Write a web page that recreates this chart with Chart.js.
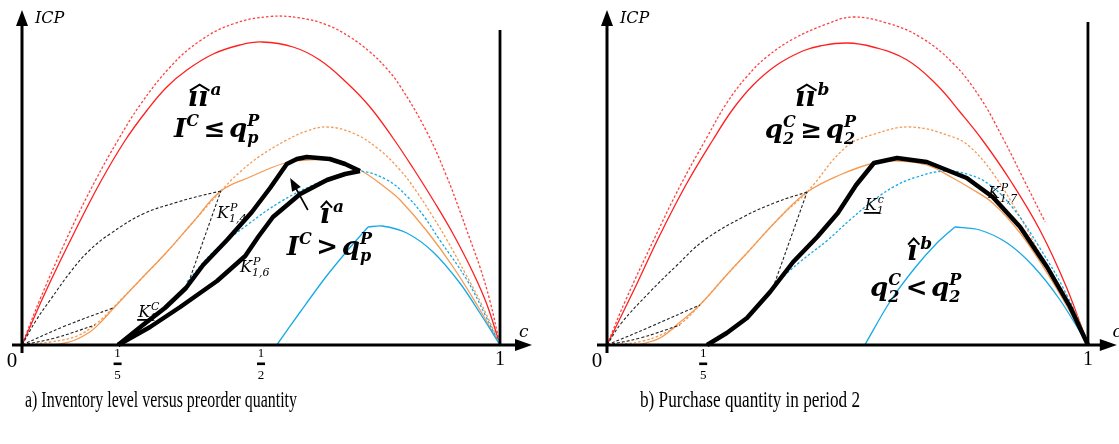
<!DOCTYPE html>
<html>
<head>
<meta charset="utf-8">
<script src="https://cdn.jsdelivr.net/npm/chart.js@4/dist/chart.umd.min.js"></script>
<style>
  html, body { margin: 0; padding: 0; background: #fff; }
  body { width: 1119px; height: 444px; position: relative; overflow: hidden; }
  .panel { position: absolute; top: 0; height: 444px; }
  #pa { left: 0; width: 560px; }
  #pb { left: 560px; width: 559px; }
  .cap { position: absolute; top: 388px; font-family: "Liberation Serif", "Times New Roman", serif;
         font-size: 23px; line-height: 23px; color: #000; white-space: nowrap; transform-origin: 0 0; }
</style>
</head>
<body>
<div class="panel" id="pa"><canvas id="ca" width="560" height="444"></canvas></div>
<div class="panel" id="pb"><canvas id="cb" width="559" height="444"></canvas></div>
<div class="cap" id="capA" data-w="272" style="left:25px">a) Inventory level versus preorder quantity</div>
<div class="cap" id="capB" data-w="220" style="left:640px">b) Purchase quantity in period 2</div>
<script>
// ---- axis ticks -------------------------------------------------------
const xTicksA = [0, 0.2, 0.5, 1];
const xTickTextA = ['0', '1/5', '1/2', '1'];
const xTicksB = [0, 0.2, 1];
const xTickTextB = ['0', '1/5', '1'];

// ---- panel a: curves as [c, ICP] pairs ---------------------------------
const redDashA = [[0,0],[0.038,46],[0.100,113],[0.153,164],[0.201,205],[0.247,240],[0.310,278],[0.372,304],[0.441,321],[0.519,328.5],[0.582,327],[0.638,320],[0.686,308],[0.728,293],[0.760,278],[0.791,259],[0.847,213],[0.889,168],[0.916,134],[0.937,106],[0.958,78],[0.979,44],[1,0]];
const redSolidA = [[0,0],[0.054,58],[0.111,114],[0.163,162],[0.215,204],[0.262,235],[0.303,258],[0.345,275],[0.400,291],[0.456,300],[0.502,303],[0.567,298],[0.623,285],[0.680,262],[0.728,238],[0.776,207],[0.818,177],[0.864,142],[0.902,111],[0.944,72],[0.973,40],[1,0]];
const orangeDashA = [[0,0],[0.059,3],[0.115,9],[0.157,22],[0.190,37],[0.247,65],[0.303,93],[0.358,123],[0.416,154],[0.456,173],[0.498,189],[0.554,205],[0.596,214],[0.638,218],[0.692,212],[0.743,197],[0.791,175],[0.826,153],[0.860,128],[0.889,105],[0.927,72],[0.958,44],[0.994,7],[1,0]];
const orangeSolidA = [[0.065,0],[0.090,2],[0.111,5],[0.142,13],[0.163,22],[0.190,36],[0.247,65],[0.303,93],[0.358,123],[0.416,154],[0.477,168],[0.550,182],[0.596,185],[0.655,184],[0.707,175],[0.764,156],[0.791,145],[0.847,114],[0.902,78],[0.952,40],[1,0]];
const blueDashA = [[0.345,63],[0.400,93],[0.471,120],[0.540,143],[0.609,160],[0.665,170],[0.707,174],[0.764,165],[0.805,149],[0.839,130],[0.874,105],[0.931,65],[0.969,30],[1,0]];
const blueRiseA = [[0.533,0],[0.582,33],[0.634,67],[0.680,94],[0.724,118]];
const blueFallA = [[0.724,118],[0.753,119],[0.805,112],[0.860,93],[0.916,62],[0.958,32],[1,0]];
const blackArcA = [[0,0],[0.030,25],[0.059,45],[0.103,74],[0.142,95],[0.184,111],[0.253,131],[0.326,143],[0.372,149],[0.416,154]];
const blackChordA = [[0,0],[0.090,19],[0.190,37]];
const blackLowA = [[0,0],[0.069,7],[0.153,20]];
const blackKinkA = [[0.345,58],[0.416,154]];
const thickUpperA = [[0.201,0],[0.253,20],[0.299,37],[0.343,57],[0.379,80],[0.429,105],[0.481,133],[0.519,157],[0.554,181],[0.575,186],[0.596,188],[0.644,186],[0.676,181],[0.707,174]];
const thickLowerA = [[0.201,0],[0.268,18],[0.331,38],[0.408,64],[0.467,89],[0.494,108],[0.525,128],[0.582,151],[0.638,165],[0.676,171],[0.707,174]];
const arrowA = [[0.598,135],[0.561,167]];

// ---- panel b ----------------------------------------------------------
const redDashB = [[0,0],[0.038,44],[0.100,108],[0.153,160],[0.207,207],[0.249,242],[0.290,268],[0.332,288],[0.387,306],[0.457,321],[0.511,328],[0.582,322],[0.651,308],[0.719,282],[0.775,248],[0.823,207],[0.867,165],[0.911,123]];
const redSolidB = [[0,0],[0.058,57],[0.110,110],[0.164,160],[0.220,205],[0.262,236],[0.304,260],[0.353,280],[0.407,294],[0.443,299],[0.499,302],[0.553,298],[0.624,285],[0.686,260],[0.734,233],[0.782,204],[0.838,165],[0.900,115],[0.956,57],[1,0]];
const orangeDashB = [[0,0],[0.075,4],[0.146,19],[0.193,40],[0.245,68],[0.291,92],[0.360,128],[0.416,153],[0.497,198],[0.557,211],[0.632,218],[0.719,208],[0.755,198],[0.802,172],[0.859,128],[0.915,78],[0.969,38],[1,0]];
const orangeSolidB = [[0.064,0],[0.110,7],[0.152,23],[0.193,40],[0.245,68],[0.291,92],[0.360,128],[0.416,153],[0.484,170],[0.555,182],[0.607,184],[0.665,180],[0.719,167],[0.755,157],[0.802,142],[0.859,112],[0.915,72],[0.969,28],[1,0]];
const blueDashB = [[0.347,60],[0.401,83],[0.459,105],[0.505,125],[0.555,145],[0.599,159],[0.644,168],[0.703,174],[0.755,170],[0.796,160],[0.844,137],[0.900,97],[0.956,50],[1,0]];
const blueRiseB = [[0.536,0],[0.588,43],[0.640,77],[0.688,103],[0.723,118]];
const blueFallB = [[0.723,118],[0.775,115],[0.832,102],[0.886,79],[0.942,45],[1,0]];
const blackArcB = [[0,0],[0.030,22],[0.089,53],[0.146,80],[0.200,104],[0.283,128],[0.353,143],[0.416,153]];
const blackChordB = [[0,0],[0.089,18],[0.193,40]];
const blackLowB = [[0,0],[0.069,7],[0.152,20]];
const blackKinkB = [[0.345,57],[0.416,153]];
const thickB = [[0.208,0],[0.249,12],[0.291,27],[0.339,53],[0.387,83],[0.437,108],[0.480,132],[0.518,160],[0.555,182],[0.603,187],[0.665,183],[0.748,167],[0.802,148],[0.859,118],[0.915,78],[0.963,38],[1,0]];

// ---- line styles --------------------------------------------------------
const RED = '#ff1f1f', RED_D = '#ff4040', ORANGE = '#f59a52', BLUE = '#17a9e6';
const STY = {
  thick:   { borderColor: '#000', borderWidth: 4.5, tension: 0 },
  redD:    { borderColor: RED_D, borderWidth: 1.3, borderDash: [2.5, 2], tension: 0.4 },
  redS:    { borderColor: RED, borderWidth: 1.3, tension: 0.4 },
  orD:     { borderColor: ORANGE, borderWidth: 1.3, borderDash: [2.5, 2], tension: 0.4 },
  orS:     { borderColor: ORANGE, borderWidth: 1.3, tension: 0.4 },
  blD:     { borderColor: BLUE, borderWidth: 1.3, borderDash: [2.5, 2], tension: 0.4 },
  blS:     { borderColor: BLUE, borderWidth: 1.3, tension: 0.3 },
  bkD:     { borderColor: '#222', borderWidth: 1.1, borderDash: [3, 2], tension: 0.4 },
  bkDs:    { borderColor: '#222', borderWidth: 1.1, borderDash: [3, 2], tension: 0 }
};

function series(points, styleKey) {
  const s = STY[styleKey];
  return {
    data: points.map(p => ({ x: p[0], y: p[1] })),
    showLine: true, pointRadius: 0, pointHoverRadius: 0, fill: false, clip: false,
    borderColor: s.borderColor, borderWidth: s.borderWidth, borderDash: s.borderDash || [],
    tension: s.tension, borderCapStyle: 'butt', borderJoinStyle: 'round'
  };
}

// ---- text helpers -------------------------------------------------------
const MF = '"DejaVu Serif", serif';
function mathText(ctx, x, y, size, parts, weight) {
  weight = weight || 'bold';
  let cx = x;
  for (const p of parts) {
    if (typeof p === 'string') {
      ctx.font = `italic ${weight} ${size}px ${MF}`;
      ctx.fillText(p, cx, y);
      cx += ctx.measureText(p).width;
    } else if (p.op) {
      ctx.font = `${weight} ${size}px ${MF}`;
      cx += size * 0.14;
      ctx.fillText(p.op, cx, y);
      cx += ctx.measureText(p.op).width + size * 0.14;
    } else {
      const s = Math.round(size * (p.scale || 0.62));
      ctx.font = `italic ${weight} ${s}px ${MF}`;
      let w = 0;
      if (p.sup) { ctx.fillText(p.sup, cx + (p.dx || 0), y - size * 0.42); w = Math.max(w, ctx.measureText(p.sup).width + (p.dx || 0)); }
      if (p.sub) { ctx.fillText(p.sub, cx, y + size * 0.24); w = Math.max(w, ctx.measureText(p.sub).width); }
      cx += w + 1;
    }
  }
  return cx;
}
function hat(ctx, x0, x1, y) {
  ctx.save();
  ctx.lineWidth = 2;
  ctx.lineJoin = 'miter';
  ctx.beginPath();
  ctx.moveTo(x0, y + 4);
  ctx.lineTo((x0 + x1) / 2, y - 2);
  ctx.lineTo(x1, y + 4);
  ctx.stroke();
  ctx.restore();
}
// wide-hatted "ıı" followed by a superscript letter
function hatPair(ctx, x, y, size, letter) {
  ctx.font = `italic bold ${size}px ${MF}`;
  const w = ctx.measureText('ıı').width;
  ctx.fillText('ıı', x, y);
  hat(ctx, x + 2, x + w + 1, y - size * 0.72);
  ctx.font = `italic bold ${Math.round(size * 0.62)}px ${MF}`;
  ctx.fillText(letter, x + w + 2, y - size * 0.42);
}
function hatOne(ctx, x, y, size, letter) {
  ctx.font = `italic bold ${size}px ${MF}`;
  const w = ctx.measureText('ı').width;
  ctx.fillText('ı', x, y);
  hat(ctx, x + 1, x + w + 2, y - size * 0.72);
  ctx.font = `italic bold ${Math.round(size * 0.62)}px ${MF}`;
  ctx.fillText(letter, x + w + 3, y - size * 0.42);
}
function kLabel(ctx, x, y, sup, sub, underline) {
  const size = 16;
  ctx.font = `italic ${size}px ${MF}`;
  const wk = ctx.measureText('K').width;
  const end = mathText(ctx, x, y, size, ['K', { sup: sup, sub: sub, scale: 0.7, dx: 1 }], 'normal');
  if (underline) {
    ctx.fillRect(x - 1, y + 2, wk + 4, 1.8);
  }
  return end;
}

// ---- axes, ticks and annotations plugin ---------------------------------
const decor = {
  id: 'decor',
  afterDraw(chart, args, o) {
    const ctx = chart.ctx, xs = chart.scales.x, ys = chart.scales.y;
    const X = v => xs.getPixelForValue(v), Y = v => ys.getPixelForValue(v);
    ctx.save();
    ctx.fillStyle = '#000'; ctx.strokeStyle = '#000';
    // x axis with arrow
    const y0 = Y(0), x0 = X(0);
    ctx.lineWidth = 3;
    ctx.beginPath(); ctx.moveTo(x0 - 10, y0); ctx.lineTo(X(o.xTip) - 14, y0); ctx.stroke();
    ctx.beginPath(); ctx.moveTo(X(o.xTip), y0); ctx.lineTo(X(o.xTip) - 17, y0 - 6); ctx.lineTo(X(o.xTip) - 17, y0 + 6); ctx.closePath(); ctx.fill();
    // y axis with arrow
    ctx.beginPath(); ctx.moveTo(x0, y0 + 8); ctx.lineTo(x0, Y(335) + 12); ctx.stroke();
    ctx.beginPath(); ctx.moveTo(x0, Y(335)); ctx.lineTo(x0 - 6, Y(335) + 16); ctx.lineTo(x0 + 6, Y(335) + 16); ctx.closePath(); ctx.fill();
    // vertical bound at c = 1
    ctx.lineWidth = 2.8;
    ctx.beginPath(); ctx.moveTo(X(1), y0); ctx.lineTo(X(1), Y(o.wallTop)); ctx.stroke();
    // axis titles
    ctx.font = `italic 16px ${MF}`;
    ctx.textAlign = 'left'; ctx.textBaseline = 'alphabetic';
    ctx.fillText('ICP', x0 + 13, Y(322));
    ctx.font = `italic 17px ${MF}`;
    ctx.fillText('c', X(o.cPos), Y(8));
    // tick labels
    o.ticks.forEach((v, i) => {
      const t = o.tickText[i], px = X(v);
      ctx.textAlign = 'center';
      if (t.includes('/')) {
        const [n, d] = t.split('/');
        ctx.font = '13px "Liberation Serif", serif';
        ctx.fillText(n, px, y0 + 12);
        ctx.fillRect(px - 4, y0 + 17.5, 8, 2.6);
        ctx.fillText(d, px, y0 + 34);
      } else if (v === 0) {
        ctx.font = '21px "Liberation Serif", serif';
        ctx.fillText(t, px - 10, y0 + 22);
      } else {
        ctx.font = '20px "Liberation Serif", serif';
        ctx.fillText(t, px, y0 + 20);
      }
    });
    ctx.textAlign = 'left';
    // annotations
    o.notes(ctx, X, Y);
    ctx.restore();
  }
};

function makeChart(id, datasets, pad, opts) {
  return new Chart(document.getElementById(id), {
    type: 'scatter',
    data: { datasets: datasets },
    options: {
      responsive: false, animation: false, events: [],
      layout: { padding: pad },
      scales: {
        x: { type: 'linear', min: 0, max: 1.05, display: false },
        y: { type: 'linear', min: 0, max: 335, display: false }
      },
      plugins: { legend: { display: false }, tooltip: { enabled: false }, decor: opts }
    },
    plugins: [decor]
  });
}

// ---- panel a --------------------------------------------------------------
makeChart('ca', [
  series(thickUpperA, 'thick'), series(thickLowerA, 'thick'),
  series(blackKinkA, 'bkDs'), series(blackArcA, 'bkD'), series(blackChordA, 'bkD'), series(blackLowA, 'bkD'),
  series(blueDashA, 'blD'), series(blueRiseA, 'blS'), series(blueFallA, 'blS'),
  series(orangeSolidA, 'orS'), series(orangeDashA, 'orD'),
  series(redSolidA, 'redS'), series(redDashA, 'redD')
], { left: 22, right: 36.1, top: 10, bottom: 99 }, {
  xTip: 1.067, wallTop: 315, cPos: 1.04, ticks: xTicksA, tickText: xTickTextA,
  notes(ctx, X, Y) {
    hatPair(ctx, X(0.347), Y(239), 27, 'a');
    mathText(ctx, X(0.318), Y(208), 26, ['I', { sup: 'C' }, { op: '≤' }, 'q', { sup: 'P', sub: 'p' }]);
    hatOne(ctx, X(0.623), Y(122), 27, 'a');
    mathText(ctx, X(0.554), Y(90), 26, ['I', { sup: 'C' }, { op: '>' }, 'q', { sup: 'P', sub: 'p' }]);
    kLabel(ctx, X(0.408), Y(127), 'P', '1,4', false);
    kLabel(ctx, X(0.456), Y(73), 'P', '1,6', false);
    kLabel(ctx, X(0.243), Y(28), 'C', '1', true);
    // arrow from the î region toward the upper boundary
    const tx = X(arrowA[0][0]), ty = Y(arrowA[0][1]), hx = X(arrowA[1][0]), hy = Y(arrowA[1][1]);
    const ang = Math.atan2(hy - ty, hx - tx);
    ctx.lineWidth = 1.6;
    ctx.beginPath(); ctx.moveTo(tx, ty); ctx.lineTo(hx - 10 * Math.cos(ang), hy - 10 * Math.sin(ang)); ctx.stroke();
    ctx.beginPath(); ctx.moveTo(hx, hy);
    ctx.lineTo(hx - 13 * Math.cos(ang) + 5 * Math.sin(ang), hy - 13 * Math.sin(ang) - 5 * Math.cos(ang));
    ctx.lineTo(hx - 13 * Math.cos(ang) - 5 * Math.sin(ang), hy - 13 * Math.sin(ang) + 5 * Math.cos(ang));
    ctx.closePath(); ctx.fill();
  }
});

// ---- panel b --------------------------------------------------------------
makeChart('cb', [
  series(thickB, 'thick'),
  series(blackKinkB, 'bkDs'), series(blackArcB, 'bkD'), series(blackChordB, 'bkD'), series(blackLowB, 'bkD'),
  series(blueDashB, 'blD'), series(blueRiseB, 'blS'), series(blueFallB, 'blS'),
  series(orangeSolidB, 'orS'), series(orangeDashB, 'orD'),
  series(redSolidB, 'redS'), series(redDashB, 'redD')
], { left: 47, right: 7, top: 10, bottom: 99 }, {
  xTip: 1.060, wallTop: 323, cPos: 1.051, ticks: xTicksB, tickText: xTickTextB,
  notes(ctx, X, Y) {
    hatPair(ctx, X(0.391), Y(239), 27, 'b');
    mathText(ctx, X(0.328), Y(207), 26, ['q', { sup: 'C', sub: '2' }, { op: '≥' }, 'q', { sup: 'P', sub: '2' }]);
    hatOne(ctx, X(0.624), Y(85), 27, 'b');
    mathText(ctx, X(0.547), Y(49), 26, ['q', { sup: 'C', sub: '2' }, { op: '<' }, 'q', { sup: 'P', sub: '2' }]);
    kLabel(ctx, X(0.536), Y(135), 'c', '1', true);
    kLabel(ctx, X(0.792), Y(147), 'P', '1,7', false);
  }
});

// captions: fit each to its printed width
document.querySelectorAll('.cap').forEach(el => {
  const w = el.getBoundingClientRect().width;
  el.style.transform = `scaleX(${(+el.dataset.w / w).toFixed(4)})`;
});
</script>
</body>
</html>
